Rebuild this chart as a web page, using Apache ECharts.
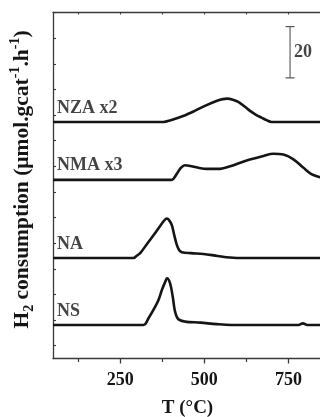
<!DOCTYPE html>
<html>
<head>
<meta charset="utf-8">
<script src="https://cdn.jsdelivr.net/npm/echarts@6/dist/echarts.min.js"></script>
<style>
html,body{margin:0;padding:0;background:#fff;}
#c{width:320px;height:417px;}
</style>
</head>
<body>
<div id="c"></div>
<script>
// Temperature (°C) and H2 consumption (offset curves, arbitrary units)
const nsData = [[50,13.1],[319,13.1],[334,15.7],[354,20.2],[364,22.9],[374,26.8],[384,30.0],[389,31.3],[398,29.4],[406,24.2],[413,18.3],[423,15.3],[443,14.4],[488,14.0],[537,13.4],[580,13.1],[780,13.1],[793,13.7],[806,13.1],[850,13.1]];
const naData = [[50,39.2],[289,39.2],[300,40.2],[310,41.2],[330,44.8],[350,48.3],[375,52.9],[384,54.3],[389,54.6],[395,54.0],[403,52.2],[410,48.5],[418,44.4],[425,42.3],[433,41.5],[460,41.1],[497,40.8],[540,40.0],[576,39.4],[620,39.2],[850,39.2]];
const nmaData = [[50,69.7],[404,69.7],[413,71.0],[423,73.1],[433,74.7],[443,75.4],[458,75.1],[482,74.4],[508,74.0],[547,74.0],[577,75.0],[626,77.3],[676,79.0],[705,79.9],[735,79.6],[765,77.7],[795,74.4],[820,71.8],[839,70.9],[850,70.6]];
const nzaData = [[50,92.3],[378,92.3],[400,93.0],[437,94.6],[470,96.5],[497,98.3],[536,100.5],[555,101.2],[568,101.4],[585,101.0],[601,100.1],[620,98.3],[636,96.6],[655,95.0],[670,94.0],[685,93.0],[700,92.3],[850,92.3]];

const curveNames = ['NS','NA','NMA x3','NZA x2'];
const labelX = [62, 62, 62, 62];
const labelY = [18.3, 44.5, 75.5, 97.5];

const xMajorTicks = [250, 500, 750];
const xMinorTicks = [125, 375, 625];
const xAllTicks = [125, 250, 375, 500, 625, 750];
const yTicks = [5,15,25,35,45,55,65,75,85,95,105,115,125,135];

const scaleBarX = 755;
const scaleBarRange = [109.5, 129.5];
const scaleBarText = '20';

const FONT = 'Liberation Serif';
const TXT = '#151515';
const chart = echarts.init(document.getElementById('c'), null, {renderer:'canvas'});

const axisLine = {show:true, lineStyle:{color:'#3a3a3a', width:1.3}};
const curveStyle = {color:'#151515', width:2.6};

function curve(name, data){
  return {type:'line', name:name, data:data, xAxisIndex:0, yAxisIndex:0, smooth:0.35,
    symbol:'none', lineStyle:curveStyle, silent:true, clip:true, z:3};
}

chart.setOption({
  animation:false,
  backgroundColor:'#fff',
  grid:{left:53, top:12.5, right:-2, bottom:58.5, containLabel:false, outerBoundsMode:'none'},
  xAxis:[
    {type:'value', position:'bottom', min:50, max:850,
     axisLine:axisLine, splitLine:{show:false},
     axisTick:{show:true, inside:false, length:5, customValues:xMajorTicks, lineStyle:{color:'#3a3a3a', width:1.3}},
     axisLabel:{show:true, customValues:xMajorTicks, fontFamily:FONT, fontWeight:'bold', fontSize:18, color:TXT, margin:13},
     name:'T (°C)', nameLocation:'middle', nameGap:40,
     nameTextStyle:{fontFamily:FONT, fontWeight:'bold', fontSize:19, color:TXT}},
    {type:'value', position:'bottom', min:50, max:850,
     axisLine:{show:false}, splitLine:{show:false},
     axisTick:{show:true, inside:false, length:3.5, customValues:xMinorTicks, lineStyle:{color:'#3a3a3a', width:1.2}},
     axisLabel:{show:false}},
    {type:'value', position:'top', min:50, max:850,
     axisLine:axisLine, splitLine:{show:false},
     axisTick:{show:true, inside:true, length:2, customValues:xAllTicks, lineStyle:{color:'#3a3a3a', width:1.1}},
     axisLabel:{show:false}}
  ],
  yAxis:[
    {type:'value', position:'left', min:0, max:135,
     axisLine:axisLine, splitLine:{show:false},
     axisTick:{show:true, inside:true, length:3, customValues:yTicks, lineStyle:{color:'#3a3a3a', width:1.1}},
     axisLabel:{show:false},
     name:'{b|H}{sub|2}{b| consumption (μmol.gcat}{sup|-1}{b|.h}{sup|-1}{b|)}',
     nameLocation:'middle', nameRotate:90, nameGap:16,
     nameTextStyle:{fontFamily:FONT, fontWeight:'bold', fontSize:21.5, color:TXT, padding:[0,0,0,12],
       rich:{
         b:{fontFamily:FONT, fontWeight:'bold', fontSize:21.5, color:TXT, lineHeight:30, verticalAlign:'middle'},
         sub:{fontFamily:FONT, fontWeight:'bold', fontSize:14, color:TXT, lineHeight:30, verticalAlign:'bottom', padding:[0,0,1,0]},
         sup:{fontFamily:FONT, fontWeight:'bold', fontSize:14, color:TXT, lineHeight:30, verticalAlign:'top', padding:[1,0,0,0]}
       }}}
  ],
  series:[
    curve('NS', nsData),
    curve('NA', naData),
    curve('NMA', nmaData),
    curve('NZA', nzaData),
    {type:'scatter', xAxisIndex:0, yAxisIndex:0, symbolSize:0, silent:true, z:4,
     data: curveNames.map((n,i)=>({value:[labelX[i], labelY[i]], name:n})),
     label:{show:true, position:'right', distance:0, formatter:p=>p.name,
       fontFamily:FONT, fontWeight:'bold', fontSize:18, color:TXT}},
    {type:'line', xAxisIndex:0, yAxisIndex:0, silent:true, z:4,
     data: scaleBarRange.map(v=>[scaleBarX, v]),
     symbol:'rect', symbolSize:[9,1.2], itemStyle:{color:'#555'},
     lineStyle:{color:'#555', width:1.1}},
    {type:'scatter', xAxisIndex:0, yAxisIndex:0, symbolSize:0, silent:true, z:4,
     data:[{value:[scaleBarX, (scaleBarRange[0]+scaleBarRange[1])/2], name:scaleBarText}],
     label:{show:true, position:'right', distance:4, formatter:p=>p.name,
       fontFamily:FONT, fontWeight:'bold', fontSize:18, color:TXT}}
  ]
});
</script>
</body>
</html>
